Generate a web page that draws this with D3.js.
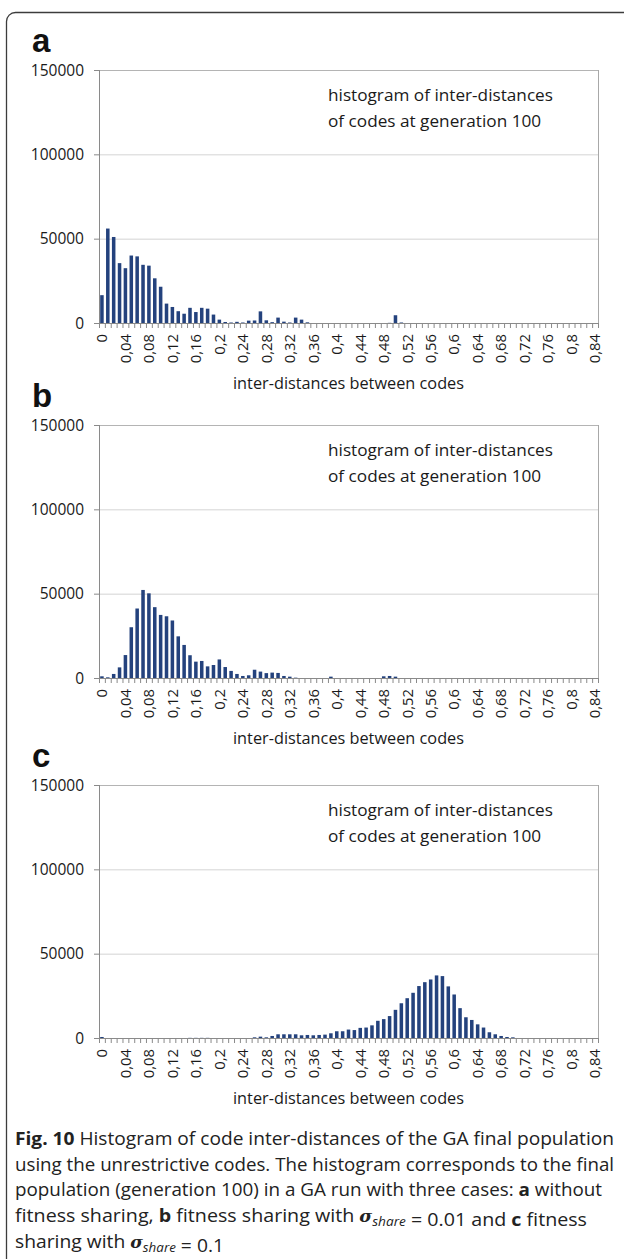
<!DOCTYPE html>
<html>
<head>
<meta charset="utf-8">
<script src="https://cdn.jsdelivr.net/npm/d3@7"></script>
<style>
  html, body { margin: 0; padding: 0; background: #fff; }
  svg { display: block; }
</style>
</head>
<body>
<script>
// ---------- DATA ----------
const categories = ["0","0,01","0,02","0,03","0,04","0,05","0,06","0,07","0,08","0,09",
  "0,1","0,11","0,12","0,13","0,14","0,15","0,16","0,17","0,18","0,19",
  "0,2","0,21","0,22","0,23","0,24","0,25","0,26","0,27","0,28","0,29",
  "0,3","0,31","0,32","0,33","0,34","0,35","0,36","0,37","0,38","0,39",
  "0,4","0,41","0,42","0,43","0,44","0,45","0,46","0,47","0,48","0,49",
  "0,5","0,51","0,52","0,53","0,54","0,55","0,56","0,57","0,58","0,59",
  "0,6","0,61","0,62","0,63","0,64","0,65","0,66","0,67","0,68","0,69",
  "0,7","0,71","0,72","0,73","0,74","0,75","0,76","0,77","0,78","0,79",
  "0,8","0,81","0,82","0,83","0,84"];

const tickLabels = ["0","0,04","0,08","0,12","0,16","0,2","0,24","0,28","0,32","0,36","0,4",
  "0,44","0,48","0,52","0,56","0,6","0,64","0,68","0,72","0,76","0,8","0,84"];

const yTicks = [0, 50000, 100000, 150000];

// a: without fitness sharing
const valuesA = [16500,56000,51000,35500,32500,40000,39500,34500,34000,26500,
  21500,11500,9500,7000,5500,9000,6500,9000,8500,5000,
  2000,600,300,700,300,1400,1500,6900,1600,500,
  3200,800,300,3200,2000,400,0,0,0,0,
  0,0,0,0,0,0,0,0,0,100,
  4600,300,0,0,0,0,0,0,0,0,
  0,0,0,0,0,0,0,0,0,0,
  0,0,0,0,0,0,0,0,0,0,
  0,0,0,0,0];

// b: sigma_share = 0.01
const valuesB = [1000,400,2400,6300,13600,30100,41200,52200,50200,42000,
  37400,36600,34100,24700,19600,13500,9700,10100,6900,7700,
  11000,6500,4200,2400,1200,1600,4900,3800,2900,3200,
  3000,1200,800,200,0,0,0,0,0,800,
  0,0,0,0,0,0,0,0,1000,1200,
  800,0,0,0,0,0,0,0,0,0,
  0,0,0,0,0,0,0,0,0,0,
  0,0,0,0,0,0,0,0,0,0,
  0,0,0,0,0];

// c: sigma_share = 0.1
const valuesC = [600,0,0,0,0,0,0,0,0,0,
  0,0,0,0,0,100,100,100,100,0,
  0,0,0,0,0,0,400,800,400,1200,
  2200,2200,2200,2200,1600,1800,1600,1800,2000,2800,
  4000,4000,5000,4700,6000,6200,7500,10200,11200,13000,
  16700,20600,23600,26800,30800,33100,34700,37100,36700,30600,
  25800,17700,12300,10700,8100,6200,3400,2200,1200,600,
  400,0,0,0,0,0,0,0,0,0,
  0,0,0,0,0];

const panelLetters = ["a","b","c"];
const panelSeries = [valuesA, valuesB, valuesC];
const annotationLines = ["histogram of inter-distances", "of codes at generation 100"];
const xTitle = "inter-distances between codes";

// ---------- DRAW ----------
const W = 624, H = 1259;
const svg = d3.select("body").append("svg").attr("width", W).attr("height", H);
const chartFont = "'Open Sans', 'Noto Sans', sans-serif";
const textColor = "#1a1a1a";

// outer rounded frame
svg.append("rect")
  .attr("x", 6.5).attr("y", 12.5).attr("width", 700).attr("height", 1400)
  .attr("rx", 9).attr("fill", "none").attr("stroke", "#3c3c3c").attr("stroke-width", 1.3);

const plotTops = [70, 425, 785];
const plotH = 253;
const plotL = 99, plotR = 598;

panelSeries.forEach((vals, p) => {
  const top = plotTops[p], bottom = top + plotH;
  const g = svg.append("g");

  const x = d3.scaleBand().domain(d3.range(categories.length))
    .range([plotL, plotR]).paddingInner(0.4).paddingOuter(0.2);
  const y = d3.scaleLinear().domain([0, 150000]).range([bottom, top]);

  // panel letter
  g.append("text").attr("x", 32).attr("y", top - 18)
    .attr("font-family", "'Liberation Sans', Arial, sans-serif")
    .attr("font-weight", "bold").attr("font-size", 33).attr("fill", "#111")
    .text(panelLetters[p]);

  // gridlines
  g.selectAll(".grid").data(yTicks.filter(t => t > 0)).enter().append("line")
    .attr("x1", plotL).attr("x2", plotR)
    .attr("y1", d => y(d) + 0.5).attr("y2", d => y(d) + 0.5)
    .attr("stroke", d => d === 150000 ? "#b4b4b4" : "#d4d4d4").attr("stroke-width", 1);

  // right border
  g.append("line").attr("x1", plotR + 0.5).attr("x2", plotR + 0.5)
    .attr("y1", y(150000)).attr("y2", bottom)
    .attr("stroke", "#a8a8a8");

  // bars
  g.selectAll(".bar").data(vals.map((v, i) => ({i, v})).filter(d => d.v > 0))
    .enter().append("rect")
    .attr("x", d => x(d.i)).attr("width", x.bandwidth())
    .attr("y", d => y(d.v)).attr("height", d => bottom - y(d.v))
    .attr("fill", "#24427d");

  // y axis
  g.append("line").attr("x1", plotL + 0.5).attr("x2", plotL + 0.5)
    .attr("y1", y(150000)).attr("y2", bottom).attr("stroke", "#8a8a8a");
  g.selectAll(".ytick").data(yTicks).enter().append("line")
    .attr("x1", plotL - 5).attr("x2", plotL)
    .attr("y1", d => y(d) + 0.5).attr("y2", d => y(d) + 0.5)
    .attr("stroke", "#8a8a8a");
  g.selectAll(".ylab").data(yTicks).enter().append("text")
    .attr("x", plotL - 15).attr("y", d => y(d))
    .attr("dy", "0.36em")
    .attr("text-anchor", "end")
    .attr("font-family", chartFont).attr("font-size", 15.5).attr("fill", textColor)
    .text(d => d);

  // x axis
  g.append("line").attr("x1", plotL).attr("x2", plotR)
    .attr("y1", bottom + 0.5).attr("y2", bottom + 0.5).attr("stroke", "#8a8a8a");
  const bounds = d3.range(categories.length + 1).map(i => x.range()[0] + i * x.step());
  g.selectAll(".xtick").data(bounds).enter().append("line")
    .attr("x1", d => d + 0.5).attr("x2", d => d + 0.5)
    .attr("y1", bottom).attr("y2", bottom + 5)
    .attr("stroke", "#8a8a8a");
  const labelIdx = categories.map((c, i) => i).filter(i => tickLabels.includes(categories[i]));
  g.selectAll(".xlab").data(labelIdx).enter().append("text")
    .attr("transform", i => `translate(${x(i) + x.bandwidth() / 2},${bottom + 11}) rotate(-90)`)
    .attr("dy", "0.36em")
    .attr("text-anchor", "end")
    .attr("font-family", chartFont).attr("font-size", 14.8).attr("fill", textColor)
    .text(i => categories[i]);

  // axis title
  g.append("text").attr("x", (plotL + plotR) / 2).attr("y", bottom + 66)
    .attr("text-anchor", "middle")
    .attr("font-family", chartFont).attr("font-size", 16.3).attr("fill", textColor)
    .text(xTitle);

  // annotation
  annotationLines.forEach((t, k) => {
    g.append("text").attr("x", 328).attr("y", top + 31 + k * 26)
      .attr("font-family", chartFont).attr("font-size", 17.2).attr("fill", textColor)
      .text(t);
  });
});

// ---------- CAPTION ----------
const capFont = "'Open Sans', 'Noto Sans', sans-serif";
const capX = 15;
const capBase = 1145, capStep = 25.7;
const capLines = [
  {len: 599, parts: [{t: "Fig. 10", b: true}, {t: " Histogram of code inter-distances of the GA final population"}]},
  {len: 599, parts: [{t: "using the unrestrictive codes. The histogram corresponds to the final"}]},
  {len: 587, parts: [{t: "population (generation 100) in a GA run with three cases: "}, {t: "a", b: true}, {t: " without"}]},
  {len: 572, parts: [{t: "fitness sharing, "}, {t: "b", b: true}, {t: " fitness sharing with "}, {sigma: true}, {t: " = 0.01 and "}, {t: "c", b: true}, {t: " fitness"}]},
  {len: 209, parts: [{t: "sharing with "}, {sigma: true}, {t: " = 0.1"}]}
];
capLines.forEach((ln, k) => {
  const txt = svg.append("text").attr("x", capX).attr("y", capBase + k * capStep)
    .attr("font-family", capFont).attr("font-size", 18).attr("fill", "#222")
    .attr("textLength", ln.len).attr("lengthAdjust", "spacingAndGlyphs");
  ln.parts.forEach(pt => {
    if (pt.sigma) {
      txt.append("tspan").attr("font-family", "'DejaVu Serif', serif").attr("font-style", "italic")
        .attr("font-weight", "bold").attr("font-size", 16).text("σ");
      txt.append("tspan").attr("font-style", "italic").attr("font-size", 12.5).attr("dy", 4).text("share");
      txt.append("tspan").attr("dy", -4).text("");
    } else {
      const ts = txt.append("tspan").text(pt.t);
      if (pt.b) ts.attr("font-weight", "bold");
    }
  });
});
</script>
</body>
</html>
